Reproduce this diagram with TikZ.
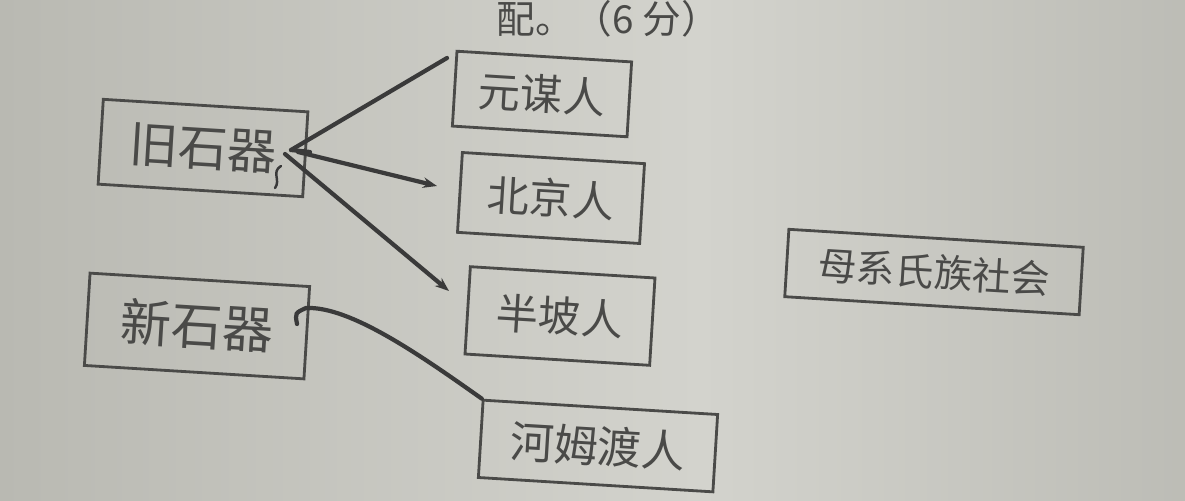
\documentclass[tikz,border=0pt]{standalone}
\usepackage{fontspec}
\setmainfont{Noto Sans CJK SC}
\usetikzlibrary{arrows.meta}
\definecolor{paperdark}{HTML}{B9B9B2}
\definecolor{paperlight}{HTML}{D3D3CD}
\definecolor{ink}{HTML}{4A4A48}
\definecolor{pen}{HTML}{3A3A3A}
\tikzset{
  box/.style={draw=ink, line width=1.6pt, text=ink, rotate=-3.5,
    inner sep=0pt, font=\fontsize{24pt}{24pt}\selectfont},
  penline/.style={draw=pen, line width=2.4pt, line cap=round},
  penarrow/.style={penline, -{Stealth[length=8pt,width=6pt]}}
}
\begin{document}
\begin{tikzpicture}[x=0.02cm, y=-0.02cm]
	\useasboundingbox (0,0) rectangle (1185,500);
	\shade[left color=paperdark, right color=paperlight] (0,0) rectangle (700,500);
	\shade[left color=paperlight, right color=paperdark!95] (700,0) rectangle (1185,500);

	% heading at the top of the sheet
	\node[text=ink, anchor=base east, font=\fontsize{22pt}{22pt}\selectfont]
	  (title) at (726,34) {配。（6 分）};

	% left column
	\node[box, minimum width=4.1cm, minimum height=1.7cm,
	  font=\fontsize{28pt}{28pt}\selectfont] (jiu) at (203,148) {旧石器};
	\node[box, minimum width=4.4cm, minimum height=1.85cm,
	  font=\fontsize{29pt}{29pt}\selectfont] (xin) at (197,326) {新石器};

	% right column
	\node[box, minimum width=3.5cm, minimum height=1.5cm] (yuan) at (542,94) {元谋人};
	\node[box, minimum width=3.65cm, minimum height=1.6cm] (bei) at (551,198) {北京人};
	\node[box, minimum width=3.7cm, minimum height=1.75cm] (ban) at (560,316) {半坡人};
	\node[box, minimum width=4.7cm, minimum height=1.55cm,
	  font=\fontsize{25pt}{25pt}\selectfont] (he) at (598,446) {河姆渡人};
	\node[box, minimum width=5.9cm, minimum height=1.35cm,
	  font=\fontsize{22pt}{22pt}\selectfont] (mu) at (934,272) {母系氏族社会};

	% pen strokes
	\coordinate (jiuend) at (291,150);
	\coordinate (yuanend) at (447,58);
	\coordinate (beiend) at (437,186);
	\coordinate (banend) at (449,291);
	\draw[penline] (jiuend) -- (yuanend);
	\draw[penline] (jiuend) -- (310,152);
	\draw[penarrow] (298,152) -- (beiend);
	\draw[penarrow] (285,154) -- (banend);
	\draw[penline, line width=1.4pt] (281,166) .. controls (271,172) and (281,180) .. (275,188);
	\draw[penline] (297,324) .. controls (295,313) .. (306,308)
	  .. controls (350,306) and (420,355) .. (he.north west);
\end{tikzpicture}
\end{document}
